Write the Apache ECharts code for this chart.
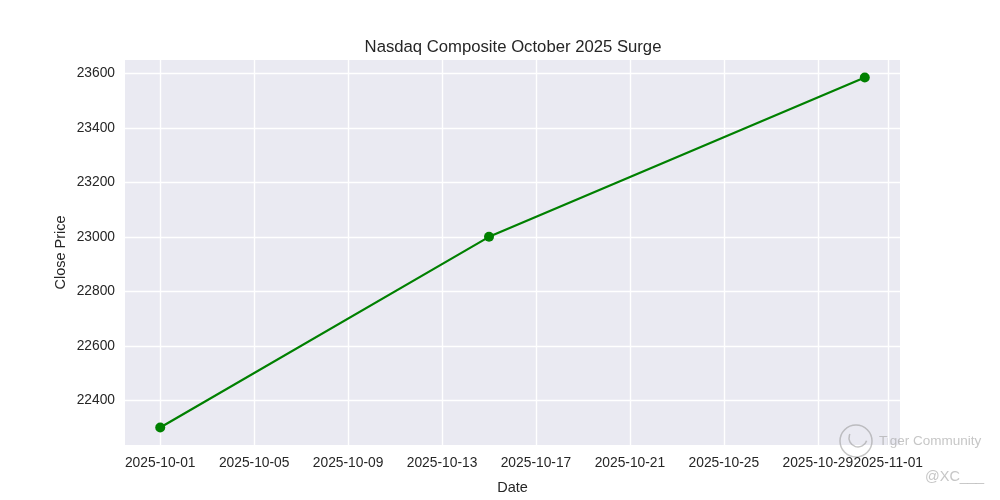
<!DOCTYPE html>
<html><head><meta charset="utf-8">
<script src="https://cdn.jsdelivr.net/npm/echarts@6/dist/echarts.min.js"></script>
<style>html,body{margin:0;padding:0;background:#fff}#c{width:1000px;height:500px}</style>
</head><body><div id="c"></div>
<script>
const dates = ['2025-10-01', '2025-10-15', '2025-10-31'];
const closePrices = [22300, 23000, 23585];
const xTickLabels = ['2025-10-01','2025-10-05','2025-10-09','2025-10-13','2025-10-17','2025-10-21','2025-10-25','2025-10-29','2025-11-01'];
const yTickLabels = [22400, 22600, 22800, 23000, 23200, 23400, 23600];

const toTs = s => { const p = s.split('-').map(Number); return Date.UTC(p[0], p[1]-1, p[2]); };
const xs = dates.map(toTs);
const xMin = Math.min(...xs), xMax = Math.max(...xs);
const xPad = (xMax - xMin) * 0.05;
const yMinD = Math.min(...closePrices), yMaxD = Math.max(...closePrices);
const yPad = (yMaxD - yMinD) * 0.05;
const pad2 = n => (n < 10 ? '0' : '') + n;
const fmt = v => { const d = new Date(v); return d.getUTCFullYear() + '-' + pad2(d.getUTCMonth()+1) + '-' + pad2(d.getUTCDate()); };
const FONT = 'Liberation Sans, Arial, sans-serif';

const chart = echarts.init(document.getElementById('c'), null, {renderer: 'canvas'});
chart.setOption({
  animation: false,
  backgroundColor: '#ffffff',
  title: {
    text: 'Nasdaq Composite October 2025 Surge',
    left: 508, top: 34, textAlign: 'center',
    textStyle: {fontFamily: FONT, fontSize: 16.7, fontWeight: 'normal', color: '#262626'}
  },
  grid: {left: 125, right: 100, top: 60, bottom: 55, show: true, backgroundColor: '#EAEAF2', borderWidth: 0},
  xAxis: {
    type: 'value',
    min: xMin - xPad, max: xMax + xPad,
    name: 'Date', nameLocation: 'middle', nameGap: 35, nameMoveOverlap: false,
    nameTextStyle: {fontFamily: FONT, fontSize: 14.5, color: '#262626'},
    axisLine: {show: false},
    axisTick: {show: false, customValues: xTickLabels.map(toTs)},
    axisLabel: {customValues: xTickLabels.map(toTs), formatter: v => fmt(v), fontFamily: FONT, fontSize: 13.8, color: '#262626', margin: 11, hideOverlap: false},
    splitLine: {show: true, lineStyle: {color: '#ffffff', width: 1.4}}
  },
  yAxis: {
    type: 'value',
    min: yMinD - yPad, max: yMaxD + yPad,
    name: 'Close Price', nameLocation: 'middle', nameGap: 57, nameRotate: 90, nameMoveOverlap: false,
    nameTextStyle: {fontFamily: FONT, fontSize: 14.5, color: '#262626'},
    axisLine: {show: false},
    axisTick: {show: false, customValues: yTickLabels},
    axisLabel: {customValues: yTickLabels, formatter: v => String(v), fontFamily: FONT, fontSize: 13.8, color: '#262626', margin: 10},
    splitLine: {show: true, lineStyle: {color: '#ffffff', width: 1.4}}
  },
  series: [{
    type: 'line',
    data: xs.map((x, i) => [x, closePrices[i]]),
    lineStyle: {color: '#008000', width: 2.2},
    itemStyle: {color: '#008000'},
    symbol: 'circle', symbolSize: 10, showSymbol: true
  }],
  graphic: [
    {type: 'circle', shape: {cx: 856, cy: 441, r: 16}, style: {fill: 'none', stroke: 'rgba(150,150,150,0.55)', lineWidth: 1.5}},
    {type: 'arc', shape: {cx: 858, cy: 438, r: 9, startAngle: 0.3, endAngle: 3.6}, style: {fill: 'none', stroke: 'rgba(150,150,150,0.55)', lineWidth: 1.5}},
    {type: 'text', left: 879, top: 434, style: {text: 'Tiger Community', fontFamily: FONT, fontSize: 13.5, fill: 'rgba(160,160,160,0.6)'}},
    {type: 'text', left: 925, top: 469, style: {text: '@XC___', fontFamily: FONT, fontSize: 14.5, fill: 'rgba(160,160,160,0.6)'}}
  ]
});
</script></body></html>
